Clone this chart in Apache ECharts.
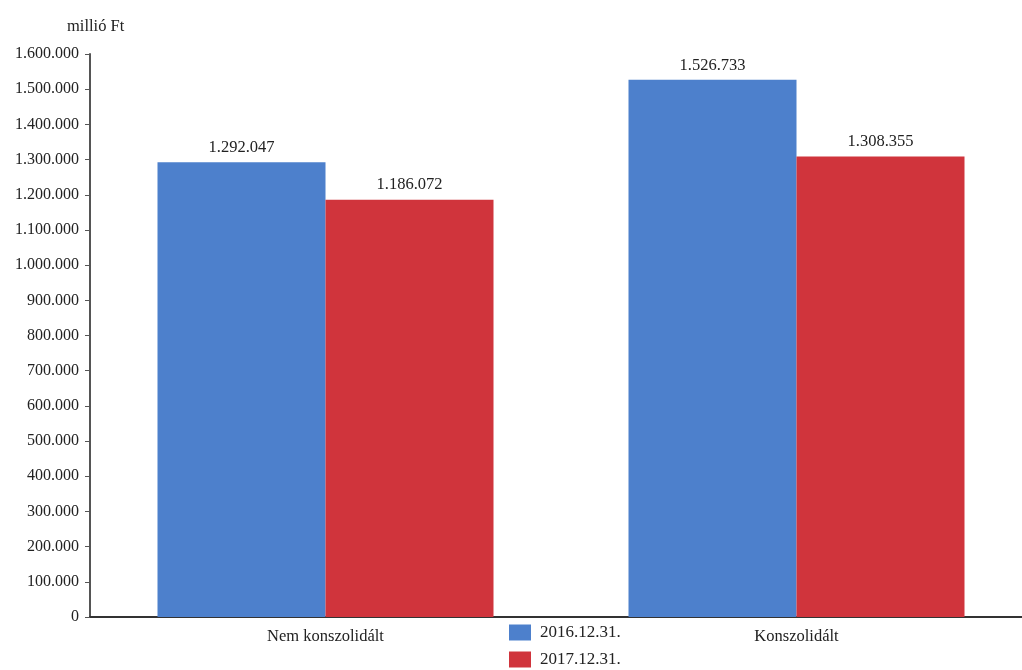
<!DOCTYPE html>
<html>
<head>
<meta charset="utf-8">
<script src="https://cdn.jsdelivr.net/npm/echarts@6/dist/echarts.min.js"></script>
<style>
html, body { margin: 0; padding: 0; background: #fff; overflow: hidden; }
#main { width: 1032px; height: 670px; }
</style>
</head>
<body>
<div id="main"></div>
<script>
var categories = ['Nem konszolidált', 'Konszolidált']
var seriesNames = ['2016.12.31.', '2017.12.31.']
var values2016 = [1292047, 1526733]
var values2017 = [1186072, 1308355]

// ezres elválasztó ponttal
function fmt(v) {
    return String(v).replace(/\B(?=(\d{3})+(?!\d))/g, '.')
}

var myChart = echarts.init(document.getElementById('main'))

var font = 'Liberation Serif, Times New Roman, serif'

var options = {
    textStyle: { fontFamily: font },
    title: {
        text: 'millió Ft',
        left: 62,
        top: 13,
        textStyle: { fontFamily: font, fontSize: 16.5, fontWeight: 'normal', color: '#222' }
    },
    legend: {
        data: seriesNames,
        orient: 'vertical',
        left: 509,
        top: 624,
        padding: 0,
        itemWidth: 22,
        itemHeight: 16,
        itemGap: 10,
        icon: 'rect',
        textStyle: { fontFamily: font, fontSize: 17, color: '#222', padding: [0, 0, 0, 4] }
    },
    grid: { left: 90, right: 0, top: 54, bottom: 53 },
    xAxis: {
        type: 'category',
        data: categories,
        axisLine: { lineStyle: { color: '#333', width: 2 } },
        axisTick: { show: false },
        axisLabel: { fontFamily: font, fontSize: 16.5, color: '#222', margin: 11 }
    },
    yAxis: {
        type: 'value',
        min: 0,
        max: 1600000,
        interval: 100000,
        splitLine: { show: false },
        axisLine: { show: true, lineStyle: { color: '#555', width: 2 } },
        axisTick: { show: true, length: 5, lineStyle: { color: '#555' } },
        axisLabel: { fontFamily: font, fontSize: 16, color: '#222', margin: 11, formatter: fmt }
    },
    series: [{
        name: seriesNames[0],
        type: 'bar',
        data: values2016,
        barWidth: 168,
        barGap: '0%',
        itemStyle: { color: '#4d80cc' },
        label: { show: true, position: 'top', distance: 6, fontFamily: font, fontSize: 16.5, color: '#222', formatter: function (p) { return fmt(p.value) } }
    }, {
        name: seriesNames[1],
        type: 'bar',
        data: values2017,
        barWidth: 168,
        itemStyle: { color: '#d0343c' },
        label: { show: true, position: 'top', distance: 6, fontFamily: font, fontSize: 16.5, color: '#222', formatter: function (p) { return fmt(p.value) } }
    }]
}

myChart.setOption(options)
</script>
</body>
</html>
